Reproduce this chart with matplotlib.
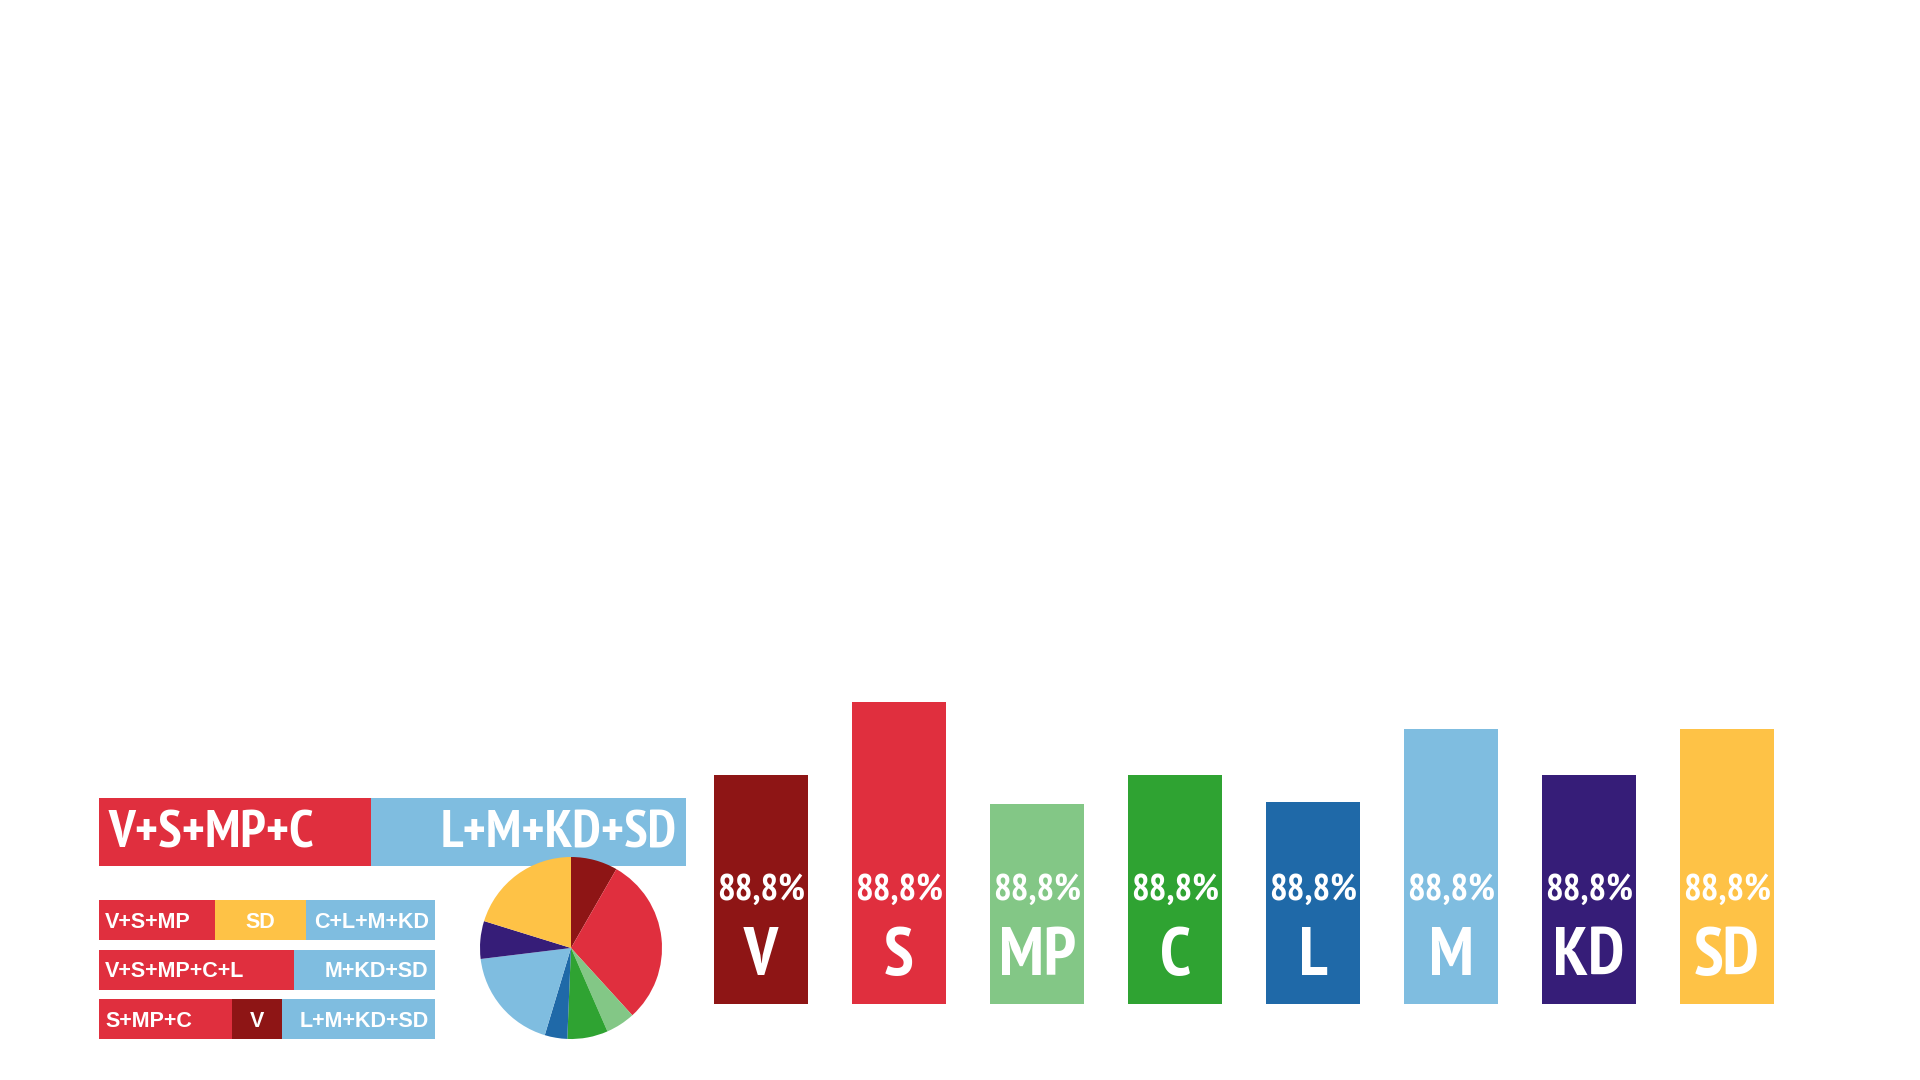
import matplotlib.pyplot as plt
from matplotlib import font_manager as fm

# Partier, färger och värden
partier = ['V', 'S', 'MP', 'C', 'L', 'M', 'KD', 'SD']
farger = ['#8E1515', '#E02F3E', '#83C786', '#2FA332',
          '#1F69A8', '#7FBDE0', '#361D78', '#FEC246']
stapel_hojd = [229, 302, 200, 229, 202, 275, 229, 275]
stapel_text = ['88,8%'] * 8
tart_andel = [8.3, 29.9, 5.2, 7.2, 4.0, 18.4, 6.7, 20.2]

# Block: stora stapeln överst
block_namn = ['V+S+MP+C', 'L+M+KD+SD']
block_andel = [46.3, 53.7]
block_farg = ['#E02F3E', '#7FBDE0']

# Tre små blockrader
rad_namn = [['V+S+MP', 'SD', 'C+L+M+KD'],
            ['V+S+MP+C+L', 'M+KD+SD'],
            ['S+MP+C', 'V', 'L+M+KD+SD']]
rad_andel = [[34.5, 27.1, 38.4],
             [58.0, 42.0],
             [39.6, 14.9, 45.5]]
rad_farg = [['#E02F3E', '#FEC246', '#7FBDE0'],
            ['#E02F3E', '#7FBDE0'],
            ['#E02F3E', '#8E1515', '#7FBDE0']]


def hitta_smal_font():
    """Letar upp ett smalt fetstilt typsnitt, annars DejaVu Sans Bold"""
    ordning = ['narrow', 'extracondensed', 'condensed', 'semicondensed']
    basta, basta_rang = None, 99
    for f in fm.fontManager.ttflist:
        fil = f.fname.lower().replace('-', '').replace('_', '')
        if 'bold' not in fil or 'italic' in fil or 'oblique' in fil:
            continue
        if 'extrabold' in fil or 'semibold' in fil or 'ultra' in fil:
            continue
        for rang, nyckel in enumerate(ordning):
            if nyckel in fil:
                if nyckel == 'condensed' and ('extracondensed' in fil or 'semicondensed' in fil):
                    continue
                if rang < basta_rang:
                    basta, basta_rang = f.fname, rang
                break
    if basta:
        return fm.FontProperties(fname=basta)
    return fm.FontProperties(family='DejaVu Sans', weight='bold')


SMAL = hitta_smal_font()
BRED = fm.FontProperties(family=['Liberation Sans', 'DejaVu Sans'], weight='bold')

W, H = 1920, 1080
fig = plt.figure(figsize=(19.2, 10.8), dpi=100)
fig.patch.set_facecolor('white')
renderer = fig.canvas.get_renderer()


def passa_storlek(txt, fp, mal_px):
    # Storlek så att texten blir mal_px bred
    t = fig.text(0, 0, txt, fontproperties=fp, fontsize=20)
    b = t.get_window_extent(renderer).width
    t.remove()
    return 20 * mal_px / b


def px_axes(x, y, w, h):
    """Axes placerade i pixlar (origo uppe till vänster)"""
    ax = fig.add_axes([x / W, 1 - (y + h) / H, w / W, h / H])
    ax.axis('off')
    return ax


def skriv(ax, txt, x, y, fp, fs, ha='center', dx=0):
    ax.annotate(txt, xy=(x, y), xytext=(dx, -0.36 * fs), textcoords='offset points',
                ha=ha, va='baseline', color='white', fontproperties=fp, fontsize=fs)


def segment_text(ax, namn, vanster, bredd, yc, idx, antal, fp, fs, pad):
    # Första vänsterjusterad, sista högerjusterad, mitten centrerad
    if idx == 0:
        skriv(ax, namn, vanster, yc, fp, fs, 'left', pad)
    elif idx == antal - 1:
        skriv(ax, namn, vanster + bredd, yc, fp, fs, 'right', -pad)
    else:
        skriv(ax, namn, vanster + bredd / 2, yc, fp, fs)


fs_block = passa_storlek('V+S+MP+C', SMAL, 205)
fs_rad = passa_storlek('V+S+MP+C+L', BRED, 140)
fs_proc = passa_storlek('88,8%', SMAL, 88)
fs_parti = passa_storlek('MP', SMAL, 77)

# Stora blockstapeln
ax_blk = px_axes(99, 798, 587, 68)
vanster = 0
for i, (namn, andel, farg) in enumerate(zip(block_namn, block_andel, block_farg)):
    ax_blk.barh(0, andel, left=vanster, height=1.0, color=farg, linewidth=0)
    segment_text(ax_blk, namn, vanster, andel, 0.06, i, len(block_namn), SMAL, fs_block, 7)
    vanster += andel
ax_blk.set_xlim(0, sum(block_andel))
ax_blk.set_ylim(-0.5, 0.5)

# Små blockrader
ax_rad = px_axes(99, 895.25, 336, 148.5)
for r, (namn_lista, andelar, farg_lista) in enumerate(zip(rad_namn, rad_andel, rad_farg)):
    vanster = 0
    for i, (namn, andel, farg) in enumerate(zip(namn_lista, andelar, farg_lista)):
        ax_rad.barh(r, andel, left=vanster, height=40 / 49.5, color=farg, linewidth=0)
        segment_text(ax_rad, namn, vanster, andel, r, i, len(namn_lista), BRED, fs_rad, 4.5)
        vanster += andel
ax_rad.set_xlim(0, 100)
ax_rad.set_ylim(2.5, -0.5)

# Tårtdiagram
ax_pie = px_axes(571 - 91, 948 - 91, 182, 182)
ax_pie.pie(tart_andel, colors=farger, startangle=90, counterclock=False,
           radius=1, wedgeprops=dict(linewidth=0))
ax_pie.set_xlim(-1, 1)
ax_pie.set_ylim(-1, 1)
ax_pie.set_aspect('equal')

# Staplar per parti
ax_bar = px_axes(692, 694, 1104, 310)
pos = list(range(len(partier)))
ax_bar.bar(pos, stapel_hojd, width=94 / 138, color=farger, linewidth=0)
for x, parti, txt in zip(pos, partier, stapel_text):
    skriv(ax_bar, txt, x, 118, SMAL, fs_proc)
    skriv(ax_bar, parti, x, 53, SMAL, fs_parti)
ax_bar.set_xlim(-0.5, len(partier) - 0.5)
ax_bar.set_ylim(0, 310)

fig.savefig('out.png', dpi=100, facecolor='white')
